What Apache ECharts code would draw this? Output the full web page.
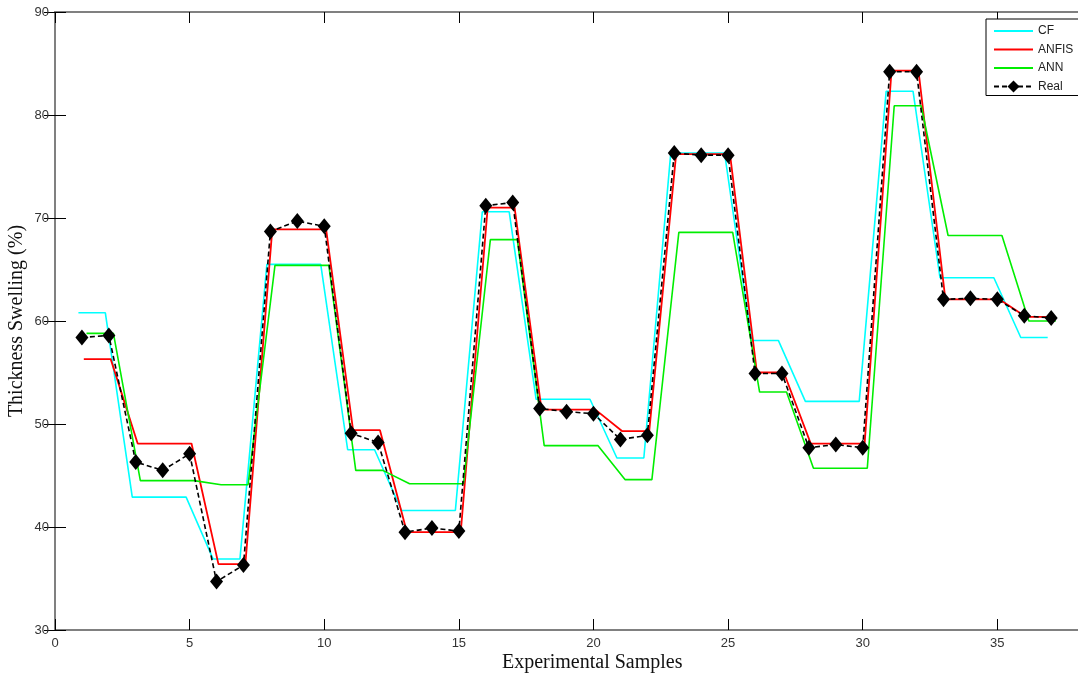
<!DOCTYPE html>
<html>
<head>
<meta charset="utf-8">
<script src="https://cdn.jsdelivr.net/npm/echarts@6/dist/echarts.min.js"></script>
<style>
  html, body { margin: 0; padding: 0; background: #fff; }
  #main { width: 1078px; height: 677px; }
</style>
</head>
<body>
<div id="main"></div>
<script>
// experimental sample numbers
var samples = [1, 2, 3, 4, 5, 6, 7, 8, 9, 10, 11, 12, 13, 14, 15, 16, 17, 18, 19,
    20, 21, 22, 23, 24, 25, 26, 27, 28, 29, 30, 31, 32, 33, 34, 35, 36, 37];

// measured thickness swelling (%)
var real = [58.4, 58.6, 46.3, 45.5, 47.1, 34.7, 36.3, 68.7, 69.7, 69.2, 49.1, 48.2,
    39.5, 39.9, 39.6, 71.2, 71.5, 51.5, 51.2, 51.0, 48.5, 48.9, 76.3, 76.1, 76.1,
    54.9, 54.9, 47.7, 48.0, 47.7, 84.2, 84.2, 62.1, 62.2, 62.1, 60.5, 60.3];

// model predictions
var cf = [60.8, 60.8, 42.9, 42.9, 42.9, 36.9, 36.9, 65.5, 65.5, 65.5, 47.5, 47.5,
    41.6, 41.6, 41.6, 70.6, 70.6, 52.4, 52.4, 52.4, 46.7, 46.7, 76.3, 76.3, 76.3,
    58.1, 58.1, 52.2, 52.2, 52.2, 82.3, 82.3, 64.2, 64.2, 64.2, 58.4, 58.4];
var anfis = [56.3, 56.3, 48.1, 48.1, 48.1, 36.4, 36.4, 68.9, 68.9, 68.9, 49.4, 49.4,
    39.5, 39.5, 39.5, 71.0, 71.0, 51.4, 51.4, 51.4, 49.3, 49.3, 76.2, 76.2, 76.2,
    55.0, 55.0, 48.1, 48.1, 48.1, 84.3, 84.3, 62.1, 62.1, 62.1, 60.4, 60.4];
var ann = [58.8, 58.8, 44.5, 44.5, 44.5, 44.1, 44.1, 65.4, 65.4, 65.4, 45.5, 45.5,
    44.2, 44.2, 44.2, 67.9, 67.9, 47.9, 47.9, 47.9, 44.6, 44.6, 68.6, 68.6, 68.6,
    53.1, 53.1, 45.7, 45.7, 45.7, 80.9, 80.9, 68.3, 68.3, 68.3, 60.0, 60.0];

// the model curves sit slightly off the sample positions in the original
var cfShift = -0.13;
var anfisShift = 0.07;
var annShift = 0.17;

function pairs(vals, shift) {
    var out = [];
    for (var i = 0; i < samples.length; i++) {
        out.push([samples[i] + shift, vals[i]]);
    }
    return out;
}

var myChart = echarts.init(document.getElementById('main'));

var axisLineStyle = { color: '#808080', width: 2 };
var tickStyle = { color: '#000', width: 1 };
var labelStyle = { fontFamily: 'Arial, Liberation Sans', fontSize: 13, color: '#333' };
var nameStyle = { fontFamily: 'Liberation Serif, Times New Roman', fontSize: 20, color: '#111' };
// the original axes box runs a little past the right edge of the picture
var xMax = 38.2;

var option = {
    animation: false,
    backgroundColor: '#fff',
    grid: { left: 55, right: -5.5, top: 12, bottom: 47, outerBoundsMode: 'none' },
    legend: {
        orient: 'vertical',
        left: 986,
        top: 19,
        padding: [6, 6, 3, 7],
        itemWidth: 39,
        itemHeight: 15,
        itemGap: 6.5,
        borderColor: '#000',
        borderWidth: 1,
        backgroundColor: '#fff',
        textStyle: { fontFamily: 'Arial, Liberation Sans', fontSize: 12, color: '#222' },
        data: [
            { name: 'CF', itemStyle: { opacity: 0 } },
            { name: 'ANFIS', itemStyle: { opacity: 0 } },
            { name: 'ANN', itemStyle: { opacity: 0 } },
            { name: 'Real' }
        ]
    },
    xAxis: [{
        type: 'value',
        min: 0,
        max: xMax,
        interval: 5,
        name: 'Experimental Samples',
        nameLocation: 'middle',
        nameGap: 23,
        nameMoveOverlap: false,
        nameTextStyle: Object.assign({ padding: [0, 0, 0, 46] }, nameStyle),
        axisLine: { lineStyle: axisLineStyle },
        axisTick: { inside: true, length: 11, lineStyle: tickStyle },
        axisLabel: Object.assign({ margin: 7, showMaxLabel: false }, labelStyle),
        splitLine: { show: false }
    }, {
        type: 'value',
        position: 'top',
        min: 0,
        max: xMax,
        interval: 5,
        axisLine: { lineStyle: axisLineStyle },
        axisTick: { inside: true, length: 11, lineStyle: tickStyle },
        axisLabel: { show: false },
        splitLine: { show: false }
    }],
    yAxis: [{
        type: 'value',
        min: 30,
        max: 90,
        interval: 10,
        name: 'Thickness Swelling (%)',
        nameLocation: 'middle',
        nameGap: 28,
        nameMoveOverlap: false,
        nameTextStyle: nameStyle,
        axisLine: { lineStyle: axisLineStyle },
        axisTick: { inside: true, length: 11, lineStyle: tickStyle },
        axisLabel: Object.assign({ margin: 6 }, labelStyle),
        splitLine: { show: false }
    }, {
        type: 'value',
        position: 'right',
        min: 30,
        max: 90,
        interval: 10,
        axisLine: { lineStyle: axisLineStyle },
        axisTick: { inside: true, length: 11, lineStyle: tickStyle },
        axisLabel: { show: false },
        splitLine: { show: false }
    }],
    series: [
        {
            name: 'CF',
            type: 'line',
            data: pairs(cf, cfShift),
            symbol: 'none',
            color: '#00ffff',
            lineStyle: { width: 1.6, color: '#00ffff' }
        },
        {
            name: 'ANFIS',
            type: 'line',
            data: pairs(anfis, anfisShift),
            symbol: 'none',
            color: '#ff0000',
            lineStyle: { width: 1.8, color: '#ff0000' }
        },
        {
            name: 'ANN',
            type: 'line',
            data: pairs(ann, annShift),
            symbol: 'none',
            color: '#00ee00',
            lineStyle: { width: 1.6, color: '#00ee00' }
        },
        {
            name: 'Real',
            type: 'line',
            data: pairs(real, 0),
            symbol: 'diamond',
            symbolSize: [13, 16],
            color: '#000',
            itemStyle: { color: '#000' },
            lineStyle: { width: 1.6, color: '#000', type: [5, 3] }
        }
    ]
};

myChart.setOption(option);
window.addEventListener('resize', myChart.resize);
</script>
</body>
</html>
